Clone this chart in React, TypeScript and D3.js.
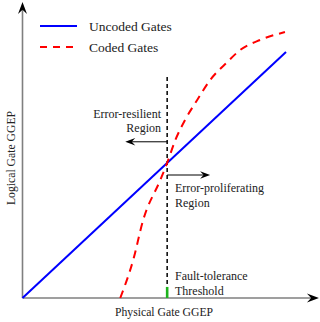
import React from "react";
import * as d3 from "d3";

const W = 320;
const H = 322;

// Uncoded gates: logical GGEP equals physical GGEP
const uncodedX = [0, 1];
const uncodedY = [0, 1];

// Coded gates (normalized units)
const codedX = [0.371, 0.42, 0.458, 0.523, 0.549, 0.58, 0.617, 0.663, 0.712, 0.777, 0.826, 0.902, 0.996];
const codedY = [0, 0.154, 0.317, 0.48, 0.549, 0.642, 0.724, 0.805, 0.886, 0.959, 1.008, 1.049, 1.081];

const threshold = 0.549;
const legendLabels = ["Uncoded Gates", "Coded Gates"];
const xLabel = "Physical Gate GGEP";
const yLabel = "Logical Gate GGEP";

const SERIF = "Liberation Serif, Times New Roman, Times, DejaVu Serif, serif";

function arrowHead(tx: number, ty: number, angle: number, len = 11, half = 4.2) {
  const c = Math.cos(angle), s = Math.sin(angle);
  const pts = [
    [0, 0],
    [-len, -half],
    [-len * 0.65, 0],
    [-len, half],
  ].map(([a, b]) => [tx + a * c - b * s, ty + a * s + b * c]);
  return "M" + pts.map((p) => p.join(",")).join("L") + "Z";
}

export default function App() {
  const x = d3.scaleLinear().domain([0, 1]).range([22.5, 286]);
  const y = d3.scaleLinear().domain([0, 1]).range([298, 52]);

  const uncoded = uncodedX.map((v, i) => [v, uncodedY[i]] as [number, number]);
  const coded = codedX.map((v, i) => [v, codedY[i]] as [number, number]);

  const line = d3
    .line<[number, number]>()
    .x((d) => x(d[0]))
    .y((d) => y(d[1]));
  const curve = d3
    .line<[number, number]>()
    .x((d) => x(d[0]))
    .y((d) => y(d[1]))
    .curve(d3.curveMonotoneX);

  const xAxisEnd = x(1.125);
  const yAxisEnd = y(1.203);
  const tX = x(threshold);

  const leftArrowY = y(0.635);
  const leftArrowEnd = x(0.39);
  const rightArrowY = y(0.5);
  const rightArrowEnd = x(0.712);

  const ts = (size: number): React.CSSProperties => ({ fontFamily: SERIF, fontSize: size });

  return (
    <svg
      width={W}
      height={H}
      style={{ position: "absolute", left: 0, top: 0, background: "#fff" }}
    >
      <rect width={W} height={H} fill="#fff" />
      {/* axes */}
      <line x1={x(0)} y1={y(0)} x2={xAxisEnd - 6} y2={y(0)} stroke="#7f7f7f" strokeWidth={1.6} />
      <line x1={x(0)} y1={y(0)} x2={x(0)} y2={yAxisEnd + 6} stroke="#7f7f7f" strokeWidth={1.6} />
      <path d={arrowHead(xAxisEnd, y(0), 0, 12, 4.5)} fill="#000" />
      <path d={arrowHead(x(0), yAxisEnd, -Math.PI / 2, 12, 4.5)} fill="#000" />

      {/* threshold dashed line */}
      <line
        x1={tX}
        y1={y(0)}
        x2={tX}
        y2={y(0.898)}
        stroke="#000"
        strokeWidth={1.5}
        strokeDasharray="4,3"
      />
      <line x1={tX} y1={y(0)} x2={tX} y2={y(0.045)} stroke="#1db31d" strokeWidth={2.6} />

      {/* series */}
      <path d={line(uncoded) || ""} fill="none" stroke="#0000ff" strokeWidth={2} />
      <path
        d={curve(coded) || ""}
        fill="none"
        stroke="#ff0000"
        strokeWidth={2}
        strokeDasharray="8,6"
      />

      {/* region arrows */}
      <line x1={tX} y1={leftArrowY} x2={leftArrowEnd + 6} y2={leftArrowY} stroke="#000" strokeWidth={1} />
      <path d={arrowHead(leftArrowEnd, leftArrowY, Math.PI, 10, 3.8)} fill="#000" />
      <line x1={tX} y1={rightArrowY} x2={rightArrowEnd - 6} y2={rightArrowY} stroke="#000" strokeWidth={1} />
      <path d={arrowHead(rightArrowEnd, rightArrowY, 0, 10, 3.8)} fill="#000" />

      {/* annotations */}
      <g fill="#222">
        <text style={ts(12)} x={161} y={118} textAnchor="end">Error-resilient</text>
        <text style={ts(12)} x={161} y={132} textAnchor="end">Region</text>
        <text style={ts(12)} x={175} y={192}>Error-proliferating</text>
        <text style={ts(12)} x={175} y={207}>Region</text>
        <text style={ts(12)} x={175} y={280}>Fault-tolerance</text>
        <text style={ts(12)} x={175} y={295}>Threshold</text>
      </g>

      {/* legend */}
      <line x1={40} y1={26} x2={77} y2={26} stroke="#0000ff" strokeWidth={2} />
      <line x1={40} y1={47} x2={77} y2={47} stroke="#ff0000" strokeWidth={2} strokeDasharray="7,6" />
      <g fill="#222">
        <text style={ts(13.5)} x={89} y={31}>{legendLabels[0]}</text>
        <text style={ts(13.5)} x={89} y={52}>{legendLabels[1]}</text>
      </g>

      {/* axis labels */}
      <text style={ts(11.7)} x={164} y={316} textAnchor="middle" fill="#222">
        {xLabel}
      </text>
      <text
        style={ts(11.7)}
        transform={`translate(15,158) rotate(-90)`}
        textAnchor="middle"
        fill="#222"
      >
        {yLabel}
      </text>
    </svg>
  );
}
